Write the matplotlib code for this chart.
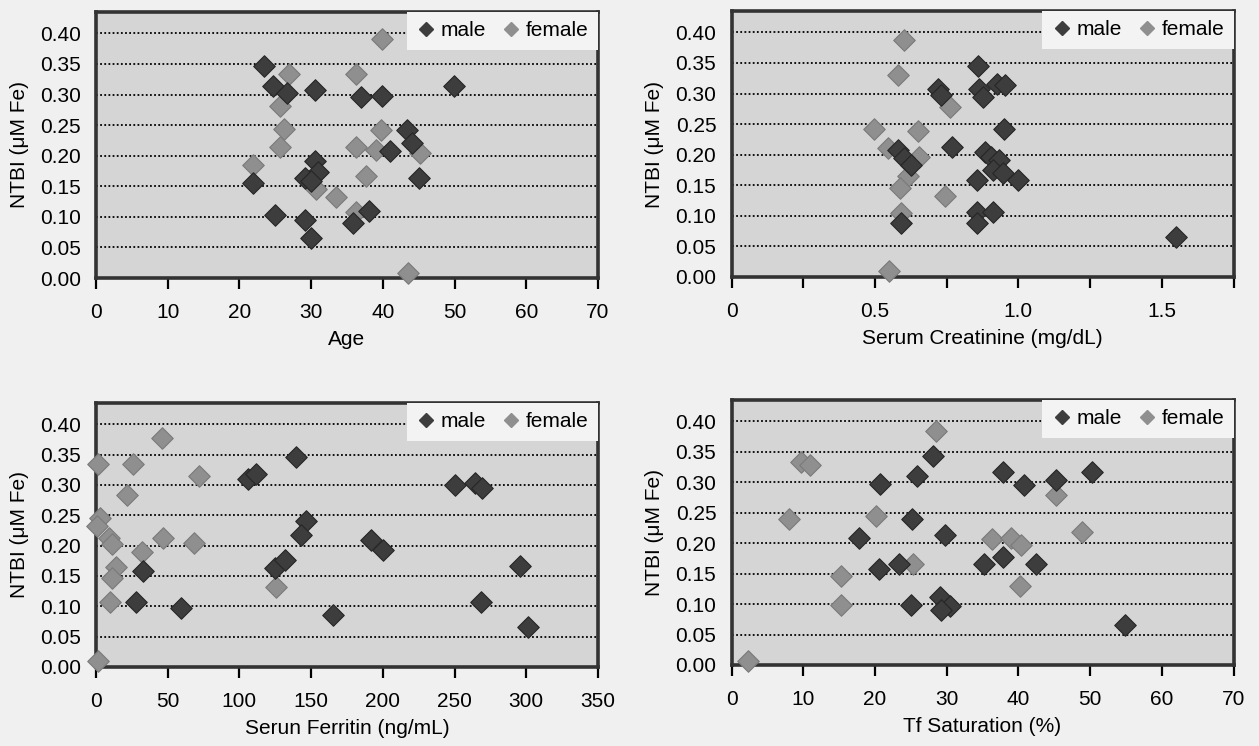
import matplotlib
matplotlib.use("Agg")
import matplotlib.pyplot as plt
from matplotlib.lines import Line2D

# ── data ───────────────────────────────────────────────────────
age_male_x = [23.4, 24.7, 26.6, 30.6, 37.0, 39.9, 43.4, 41.0, 44.0, 45.0, 49.9,
              21.9, 30.5, 30.9, 29.1, 30.0, 24.9, 29.1, 30.0, 35.9, 38.0]
age_male_y = [0.346, 0.314, 0.302, 0.307, 0.296, 0.297, 0.242, 0.207, 0.220, 0.163, 0.314,
              0.156, 0.192, 0.174, 0.163, 0.158, 0.103, 0.095, 0.065, 0.090, 0.109]
age_female_x = [39.9, 26.9, 36.2, 25.7, 26.2, 25.7, 36.3, 39.1, 39.8, 45.2, 21.9,
                37.7, 30.7, 33.4, 36.2, 43.5]
age_female_y = [0.391, 0.333, 0.334, 0.281, 0.243, 0.215, 0.214, 0.209, 0.242, 0.205, 0.185,
                0.167, 0.146, 0.133, 0.108, 0.008]

creat_male_x = [0.72, 0.73, 0.58, 0.60, 0.625, 0.59, 0.767, 0.86, 0.862, 0.877, 0.925, 0.953,
                0.949, 0.884, 0.904, 0.932, 0.911, 0.946, 0.856, 0.998, 0.856, 0.911, 0.856, 1.548]
creat_male_y = [0.308, 0.298, 0.208, 0.195, 0.183, 0.088, 0.212, 0.345, 0.308, 0.295, 0.316, 0.314,
                0.242, 0.205, 0.197, 0.191, 0.175, 0.170, 0.158, 0.158, 0.107, 0.107, 0.088, 0.066]
creat_female_x = [0.602, 0.581, 0.761, 0.498, 0.649, 0.546, 0.653, 0.616, 0.587, 0.744, 0.59, 0.549]
creat_female_y = [0.388, 0.331, 0.278, 0.242, 0.239, 0.211, 0.197, 0.165, 0.146, 0.132, 0.105, 0.009]

ferr_male_x = [32.8, 27.7, 59.2, 105.7, 111.5, 125.0, 132.0, 139.5, 250.1, 264.0, 269.0,
               146.5, 143.0, 192.0, 200.0, 165.1, 268.7, 295.4, 300.9]
ferr_male_y = [0.158, 0.107, 0.098, 0.310, 0.318, 0.163, 0.176, 0.346, 0.300, 0.304, 0.295,
               0.240, 0.218, 0.209, 0.192, 0.085, 0.107, 0.167, 0.066]
ferr_female_x = [45.9, 1.6, 25.8, 71.5, 21.9, 3.0, 1.0, 9.0, 11.0, 46.4, 68.5, 31.9,
                 14.2, 11.4, 9.6, 125.5, 1.6]
ferr_female_y = [0.377, 0.335, 0.334, 0.315, 0.284, 0.245, 0.232, 0.213, 0.203, 0.212, 0.205, 0.190,
                 0.164, 0.147, 0.107, 0.132, 0.010]

tf_male_x = [20.7, 25.8, 25.1, 17.8, 20.6, 23.4, 25.0, 28.1, 37.9, 40.8, 45.2, 50.2,
             29.7, 35.2, 37.8, 42.4, 29.1, 30.5, 29.2, 54.8]
tf_male_y = [0.297, 0.310, 0.240, 0.208, 0.157, 0.165, 0.098, 0.343, 0.317, 0.296, 0.303, 0.317,
             0.214, 0.165, 0.178, 0.165, 0.112, 0.097, 0.090, 0.066]
tf_female_x = [9.7, 10.9, 8.0, 20.1, 15.2, 15.2, 25.3, 2.3, 28.5, 45.2, 48.9, 36.3, 38.9, 40.3, 40.2]
tf_female_y = [0.334, 0.329, 0.239, 0.244, 0.146, 0.098, 0.165, 0.007, 0.384, 0.279, 0.218,
               0.207, 0.208, 0.197, 0.130]

y_ticks = [0.00, 0.05, 0.10, 0.15, 0.20, 0.25, 0.30, 0.35, 0.40]
y_ticklabels = ["0.00", "0.05", "0.10", "0.15", "0.20", "0.25", "0.30", "0.35", "0.40"]

age_ticks = [0, 10, 20, 30, 40, 50, 60, 70]
creat_ticks = [0, 0.25, 0.5, 0.75, 1.0, 1.25, 1.5, 1.75]
creat_ticklabels = ["0", "", "0.5", "", "1.0", "", "1.5", ""]
ferr_ticks = [0, 50, 100, 150, 200, 250, 300, 350]
tf_ticks = [0, 10, 20, 30, 40, 50, 60, 70]

# ── style ─────────────────────────────────────────────────────
plt.rcParams["font.family"] = ["Liberation Sans", "DejaVu Sans"]
MALE_C = "#3d3d3d"
FEMALE_C = "#8f8f8f"
AX_BG = "#d5d5d5"
FIG_BG = "#f0f0f0"
FS = 15

fig = plt.figure(figsize=(12.59, 7.46), dpi=100, facecolor=FIG_BG)

W, H = 1259.0, 746.0


def px_axes(left, top, right, bottom):
    return fig.add_axes([left / W, (H - bottom) / H, (right - left) / W, (bottom - top) / H])


def panel(ax, mx, my, fx, fy, xticks, xlabels, xlim, xlabel):
    ax.set_facecolor(AX_BG)
    # dotted horizontal grid (no line at 0)
    for yv in y_ticks[1:]:
        ax.axhline(yv, color="black", linestyle=(0, (1, 1.3)), linewidth=1.3, zorder=1)
    ax.scatter(fx, fy, marker="D", s=120, color=FEMALE_C, edgecolor="#7a7a7a",
               linewidth=0.8, zorder=3, clip_on=False)
    ax.scatter(mx, my, marker="D", s=120, color=MALE_C, edgecolor="#262626",
               linewidth=0.8, zorder=4, clip_on=False)
    ax.set_xlim(xlim)
    ax.set_ylim(0, 0.435)
    ax.set_xticks(xticks)
    ax.set_xticklabels(xlabels, fontsize=FS)
    ax.set_yticks(y_ticks)
    ax.set_yticklabels(y_ticklabels, fontsize=FS)
    ax.tick_params(axis="x", direction="out", length=8, width=1.6, pad=10, colors="black")
    ax.tick_params(axis="y", length=0, pad=11)
    for sp in ax.spines.values():
        sp.set_linewidth(2.6)
        sp.set_color("#333333")
    ax.set_xlabel(xlabel, fontsize=FS, labelpad=6)
    ax.set_ylabel("NTBI (\u03bcM Fe)", fontsize=FS, labelpad=8)
    handles = [
        Line2D([], [], marker="D", linestyle="none", markersize=7.5, color=MALE_C, label="male"),
        Line2D([], [], marker="D", linestyle="none", markersize=7.5, color=FEMALE_C, label="female"),
    ]
    leg = ax.legend(handles=handles, loc="upper right", ncol=2, frameon=True, fontsize=FS,
                    borderaxespad=0.0, handletextpad=0.2, columnspacing=0.7,
                    handlelength=1.0, borderpad=0.45, fancybox=False)
    leg.get_frame().set_facecolor("#f3f3f3")
    leg.get_frame().set_edgecolor("none")
    leg.get_frame().set_alpha(1.0)
    leg.set_zorder(5)


ax1 = px_axes(96, 12, 598, 278)
panel(ax1, age_male_x, age_male_y, age_female_x, age_female_y,
      age_ticks, [str(t) for t in age_ticks], (0, 70), "Age")

ax2 = px_axes(731.6, 11, 1233.5, 277)
panel(ax2, creat_male_x, creat_male_y, creat_female_x, creat_female_y,
      creat_ticks, creat_ticklabels, (0, 1.75), "Serum Creatinine (mg/dL)")

ax3 = px_axes(96, 403, 598, 667)
panel(ax3, ferr_male_x, ferr_male_y, ferr_female_x, ferr_female_y,
      ferr_ticks, [str(t) for t in ferr_ticks], (0, 350), "Serun Ferritin (ng/mL)")

ax4 = px_axes(731.6, 400, 1233.5, 665)
panel(ax4, tf_male_x, tf_male_y, tf_female_x, tf_female_y,
      tf_ticks, [str(t) for t in tf_ticks], (0, 70), "Tf Saturation (%)")

fig.savefig("out.png", dpi=100, facecolor=FIG_BG)
plt.close(fig)
